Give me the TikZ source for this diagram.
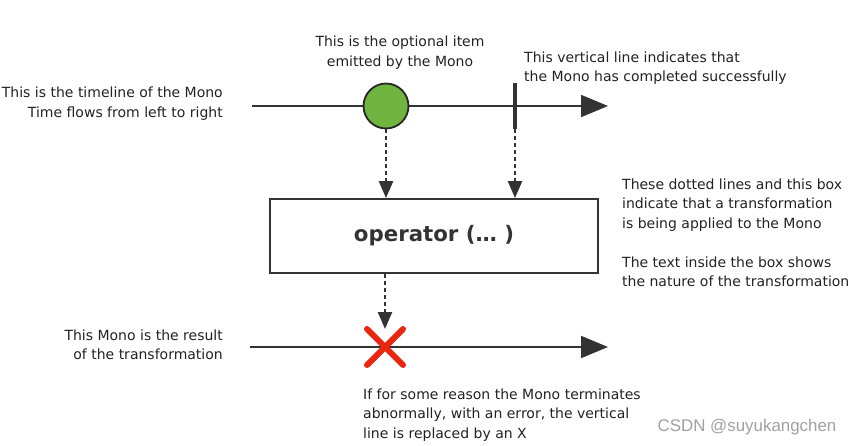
\documentclass[tikz,border=0pt]{standalone}
\usepackage{fontspec}
\setmainfont{DejaVu Sans}
\newfontfamily\wmfont{Liberation Sans}
\usetikzlibrary{shapes}
\usetikzlibrary{positioning}
\usetikzlibrary{arrows.meta}
\definecolor{linegray}{RGB}{51,51,51}
\definecolor{textgray}{RGB}{34,34,34}
\definecolor{itemgreen}{RGB}{110,180,62}
\definecolor{errred}{RGB}{235,38,16}
\definecolor{wmgray}{RGB}{160,160,160}
\tikzset{
    mytext/.style = {inner sep=0pt, font=\fontsize{14}{19.5}\selectfont, text=textgray},
    mytextl/.style = {mytext, align=left, anchor=west},
    mytextr/.style = {mytext, align=right, anchor=east},
    mytextc/.style = {mytext, align=center},
    mywm/.style = {inner sep=0pt, font=\wmfont\fontsize{16.9}{20}\selectfont, text=wmgray},
    myitem/.style = {circle, minimum size=45pt, inner sep=0pt, draw=black!85, line width=1.8pt, fill=itemgreen},
    mybar/.style = {rectangle, minimum width=4.5pt, minimum height=46pt, inner sep=0pt, fill=linegray},
    mybox/.style = {rectangle, draw=linegray, line width=1.8pt, minimum width=328pt, minimum height=74pt, font=\fontsize{21.3}{25}\bfseries\selectfont, text=linegray},
    myerr/.style = {cross out, draw=errred, line width=6pt, line cap=round, minimum size=30pt, inner sep=0pt},
    edgetime/.style = {-{Triangle[length=27pt,width=22pt]}, line width=1.8pt, linegray},
    edgedot/.style = {-{Triangle[length=17pt,width=14pt]}, line width=2.4pt, linegray, dash pattern=on 4pt off 3pt}
}
\begin{document}
\begin{tikzpicture}[x=1pt,y=-1pt]
\useasboundingbox (0,0) rectangle (851,445);
%
\coordinate (t1s) at (252,106);
\coordinate (t1e) at (608,106);
\coordinate (t2s) at (250,347);
\coordinate (t2e) at (608,347);
\draw[edgetime] (t1s) -- (t1e);
\draw[edgetime] (t2s) -- (t2e);
%
\node[myitem] at (386,106) (item) {};
\node[mybar] at (515,106) (bar) {};
\node[mybox] at (434,236) (op) {operator (… )};
\node[myerr] at (385,347) (err) {};
%
\draw[edgedot] (item.south) -- (item.south |- op.north);
\draw[edgedot] (bar.south) -- (bar.south |- op.north);
\draw[edgedot] (op.south -| err) -- (err.north);
%
\node[mytextc] at (400,52.5) (itemtxt) {This is the optional item\\emitted by the Mono};
\node[mytextl] at (524,68) (bartxt) {This vertical line indicates that\\the Mono has completed successfully};
\node[mytextr] at (223,103.5) (t1txt) {This is the timeline of the Mono\\Time flows from left to right};
\node[mytextl] at (622,233) (optxt) {These dotted lines and this box\\indicate that a transformation\\is being applied to the Mono\\[19.5pt]The text inside the box shows\\the nature of the transformation};
\node[mytextr] at (223,345) (t2txt) {This Mono is the result\\of the transformation};
\node[mytextl] at (363,415) (errtxt) {If for some reason the Mono terminates\\abnormally, with an error, the vertical\\line is replaced by an X};
\node[mywm] at (747,427) (wm) {CSDN @suyukangchen};
\end{tikzpicture}
\end{document}
